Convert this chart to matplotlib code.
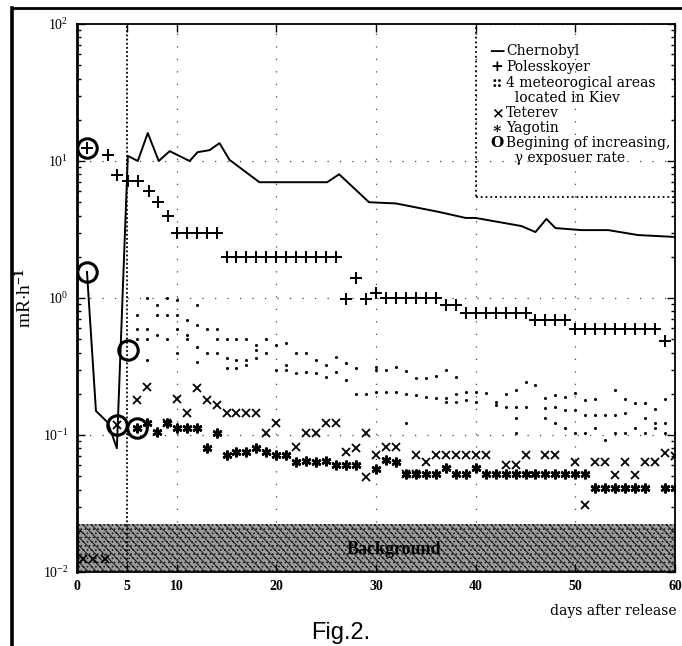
import matplotlib
matplotlib.use("Agg")
import matplotlib.pyplot as plt
from matplotlib.lines import Line2D
from matplotlib.patches import Rectangle

plt.rcParams['font.family'] = ['Liberation Serif', 'DejaVu Serif']
plt.rcParams['mathtext.fontset'] = 'custom'
plt.rcParams['mathtext.rm'] = 'Liberation Serif:bold'
plt.rcParams['mathtext.it'] = 'Liberation Serif:italic:bold'
plt.rcParams['mathtext.bf'] = 'Liberation Serif:bold'
plt.rcParams['mathtext.default'] = 'rm'
plt.rcParams['hatch.linewidth'] = 0.7

# ---------------- data ----------------
cherno_days = [1.0, 1.9, 3.1, 4.0, 5.1, 6.1, 7.1, 8.2, 9.3, 11.3, 12.1, 13.3, 14.3,
               15.3, 18.3, 25.1, 26.3, 29.3, 32.0, 36.3, 39.0, 40.0, 44.6, 46.0,
               47.1, 48.0, 50.6, 53.3, 56.3, 60.0]
cherno_vals = [1.55, 0.15, 0.123, 0.08, 10.9, 10.0, 16.0, 10.0, 11.8, 10.0, 11.6, 12.0,
               13.5, 10.2, 7.0, 7.0, 8.0, 5.0, 4.9, 4.25, 3.84, 3.84, 3.35, 3.03,
               3.78, 3.24, 3.13, 3.13, 2.88, 2.79]

pol_days = [1, 3.1, 4, 5.1, 6.1, 7.2, 8.1, 9.1,
            10, 11, 12, 13, 14,
            15, 16, 17, 18, 19, 20, 21, 22, 23, 24, 25, 26,
            27, 28, 29, 30,
            31, 32, 33, 34, 35, 36,
            37, 38,
            39, 40, 41, 42, 43, 44, 45,
            46, 47, 48, 49,
            50, 51, 52, 53, 54, 55, 56, 57, 58,
            59]
pol_vals = [12.4, 11.0, 7.9, 7.1, 7.1, 6.0, 5.0, 4.0,
            3.0, 3.0, 3.0, 3.0, 3.0,
            2.0, 2.0, 2.0, 2.0, 2.0, 2.0, 2.0, 2.0, 2.0, 2.0, 2.0, 2.0,
            0.98, 1.4, 0.98, 1.09,
            1.0, 1.0, 1.0, 1.0, 1.0, 1.0,
            0.89, 0.89,
            0.78, 0.78, 0.78, 0.78, 0.78, 0.78, 0.78,
            0.69, 0.69, 0.69, 0.69,
            0.59, 0.59, 0.59, 0.59, 0.59, 0.59, 0.59, 0.59, 0.59,
            0.485]

kiev_days = [6, 6, 6,
             7, 7, 7, 7,
             8, 8, 8,
             9, 9, 9,
             10, 10, 10, 10,
             11, 11, 11,
             12, 12, 12, 12,
             13, 13,
             14, 14, 14,
             15, 15, 15,
             16, 16, 16,
             17, 17, 17,
             18, 18, 18,
             19, 19,
             20, 20,
             21, 21, 21,
             22, 22,
             23, 23,
             24, 24,
             25, 25,
             26, 26,
             27, 27,
             28, 28,
             29,
             30, 30, 30,
             31, 31,
             32, 32,
             33, 33, 33,
             34, 34,
             35, 35,
             36, 36,
             37, 37, 37,
             38, 38, 38,
             39, 39,
             40, 40,
             41,
             42, 42,
             43, 43,
             44, 44, 44, 44,
             45, 45,
             46,
             47, 47, 47,
             48, 48, 48,
             49, 49, 49,
             50, 50, 50,
             51, 51, 51,
             52, 52, 52,
             53, 53,
             54, 54, 54,
             55, 55, 55,
             56, 56,
             57, 57, 57,
             58, 58, 58,
             59, 59, 59,
             60]
kiev_vals = [0.75, 0.59, 0.50,
             1.0, 0.59, 0.50, 0.35,
             0.89, 0.75, 0.54,
             1.0, 0.75, 0.50,
             0.97, 0.75, 0.59, 0.40,
             0.69, 0.54, 0.50,
             0.89, 0.635, 0.44, 0.34,
             0.59, 0.40,
             0.59, 0.50, 0.40,
             0.50, 0.365, 0.31,
             0.50, 0.35, 0.31,
             0.50, 0.35, 0.325,
             0.454, 0.417, 0.365,
             0.50, 0.397,
             0.454, 0.30,
             0.47, 0.325, 0.30,
             0.40, 0.284,
             0.40, 0.288,
             0.353, 0.284,
             0.325, 0.265,
             0.371, 0.288,
             0.336, 0.252,
             0.308, 0.20,
             0.20,
             0.314, 0.298, 0.206,
             0.298, 0.206,
             0.314, 0.206,
             0.293, 0.199, 0.122,
             0.261, 0.196,
             0.261, 0.189,
             0.27, 0.186,
             0.298, 0.186, 0.174,
             0.265, 0.199, 0.174,
             0.206, 0.18,
             0.206, 0.174,
             0.203,
             0.174, 0.166,
             0.199, 0.16,
             0.213, 0.16, 0.133, 0.103,
             0.244, 0.16,
             0.232,
             0.186, 0.157, 0.133,
             0.196, 0.16, 0.122,
             0.189, 0.152, 0.112,
             0.203, 0.152, 0.103,
             0.18, 0.14, 0.103,
             0.183, 0.14, 0.112,
             0.14, 0.092,
             0.213, 0.14, 0.103,
             0.183, 0.145, 0.103,
             0.171, 0.112,
             0.171, 0.133, 0.103,
             0.155, 0.122, 0.112,
             0.183, 0.122, 0.103,
             0.103]

teterev_days = [0.6, 1.6, 2.8, 4.0,
                6, 7, 9, 10, 11, 12, 13, 14, 15, 16, 17, 18, 19, 20,
                22, 23, 24, 25, 26, 27, 28, 29, 29, 30,
                31, 32, 33, 34, 34, 35, 36, 37, 38, 39, 40, 41,
                43, 44, 45, 47, 48,
                50, 51, 52, 53, 54, 55, 56, 57, 58, 59, 60]
teterev_vals = [0.0125, 0.0125, 0.0125, 0.118,
                0.18, 0.224, 0.123, 0.183, 0.144, 0.22, 0.18, 0.166, 0.145, 0.145,
                0.145, 0.145, 0.103, 0.122,
                0.082, 0.103, 0.103, 0.122, 0.122, 0.075, 0.08, 0.103, 0.049, 0.071,
                0.082, 0.082, 0.052, 0.071, 0.052, 0.063, 0.071, 0.071, 0.071, 0.071,
                0.071, 0.071,
                0.06, 0.06, 0.071, 0.071, 0.071,
                0.063, 0.031, 0.063, 0.063, 0.051, 0.063, 0.051, 0.063, 0.063, 0.074, 0.07]

yagotin_days = [6, 7, 8, 9, 10, 11, 12, 13, 14, 15, 16, 17, 18, 19, 20, 21, 22, 23,
                24, 25, 26, 27, 28, 30, 31, 32,
                33, 34, 35, 36, 37, 38, 39, 40, 41, 42, 43, 44, 45, 46, 47, 48, 49,
                50, 51,
                52, 53, 54, 55, 56, 57, 59, 60]
yagotin_vals = [0.112, 0.122, 0.105, 0.122, 0.112, 0.112, 0.112, 0.08, 0.103, 0.071,
                0.075, 0.075, 0.08, 0.075, 0.071, 0.071, 0.063, 0.065,
                0.063, 0.065, 0.06, 0.06, 0.06, 0.056, 0.066, 0.063,
                0.052, 0.052, 0.052, 0.052, 0.057, 0.052, 0.052, 0.057, 0.052, 0.052,
                0.052, 0.052, 0.052, 0.052, 0.052, 0.052, 0.052,
                0.052, 0.052,
                0.041, 0.041, 0.041, 0.041, 0.041, 0.041, 0.041, 0.041]

start_days = [1.0, 1.0, 4.0, 5.1, 6.0]
start_vals = [12.4, 1.55, 0.118, 0.42, 0.112]

background_range = [0.01, 0.0225]
background_label = 'Background'
marker_day = 5
grid_days = [10, 20, 30, 40, 50]
grid_levels = [0.1, 1, 10]
x_ticks = [0, 5, 10, 20, 30, 40, 50, 60]

legend_symbols = ['\u2014', '+', '::', '', '\u00d7', '\u2217', 'O', '']
legend_texts = ['Chernobyl', 'Polesskoyer', '4 meteorogical areas',
                '  located in Kiev', 'Teterev', 'Yagotin',
                'Begining of increasing,', '  \u03b3 exposuer rate']

# ---------------- figure ----------------
W, H = 682, 646
fig = plt.figure(figsize=(W / 100, H / 100), dpi=100)
ax = fig.add_axes([77 / W, 1 - 572 / H, 598 / W, 548 / H])
ax.set_yscale('log')
ax.set_xlim(0, 60)
ax.set_ylim(1e-2, 1e2)

# background band (stippled)
ax.axhspan(background_range[0], background_range[1], facecolor='#9c9c9c',
           edgecolor='#1a1a1a', hatch='\\\\\\\\....', linewidth=0, zorder=1)
ax.text(31.8, 0.0146, background_label, ha='center', va='center',
        fontsize=13, fontweight='bold', color='black', zorder=6)

# sparse grid and marker line
for gx in grid_days:
    ax.axvline(gx, color='#444444', lw=0.9, ls=(0, (1, 9)), zorder=2)
for gy in grid_levels:
    ax.axhline(gy, color='#444444', lw=0.9, ls=(0, (1, 9)), zorder=2)
ax.axvline(marker_day, color='black', lw=1.3, ls=(0, (1, 1.3)), zorder=3)

# data series
ax.plot(cherno_days, cherno_vals, color='black', lw=1.4, zorder=5)
ax.plot(pol_days, pol_vals, ls='none', marker='+', ms=8, mew=1.4, color='black', zorder=5)
ax.plot(kiev_days, kiev_vals, ls='none', marker='o', ms=2.2, mew=0, color='black', zorder=5)
ax.plot(teterev_days, teterev_vals, ls='none', marker='x', ms=6, mew=1.3, color='black', zorder=5)
ax.plot(yagotin_days, yagotin_vals, ls='none', marker=(6, 2, 0), ms=7, mew=1.8, color='black', zorder=5)
ax.plot(start_days, start_vals, ls='none', marker='o', ms=14, mew=2.2, mfc='none',
        mec='black', zorder=6)

# axes styling
ax.set_xticks(x_ticks)
ax.set_xticklabels([str(t) for t in x_ticks])
ax.tick_params(which='both', direction='in', top=True, right=True, width=1.0)
ax.tick_params(which='major', length=6, labelsize=10, pad=6)
ax.tick_params(which='minor', length=3)
for lab in ax.get_xticklabels():
    lab.set_fontweight('bold')
for sp in ax.spines.values():
    sp.set_linewidth(1.3)
ax.spines['left'].set_linewidth(2.0)

ax.set_ylabel(r'mR$\cdot$h$^{-1}$', fontsize=14)
ax.yaxis.set_label_coords(-(77 - 35) / 598, 0.5)

# legend box (dotted) with entries
ax.add_patch(Rectangle(((476 - 77) / 598, (572 - 197) / 548), 1 - (476 - 77) / 598,
                       1 - (572 - 197) / 548, transform=ax.transAxes, fill=False,
                       ls=':', lw=1.3, color='black', zorder=7))
line_px = [51, 67, 83, 98, 113, 128, 143, 158]
for sym, txt, py in zip(legend_symbols, legend_texts, line_px):
    yf = (572 - py) / 548
    if sym:
        ax.text((497 - 77) / 598, yf, sym, transform=ax.transAxes, ha='center',
                va='center', fontsize=11, fontweight='bold', family='DejaVu Serif', zorder=8)
    ax.text((506 - 77) / 598, yf, txt, transform=ax.transAxes, ha='left', va='center',
            fontsize=10, family='DejaVu Serif', zorder=8)

fig.text(677 / W, 1 - 611 / H, 'days after release', ha='right', va='center',
         fontsize=10, family='DejaVu Serif')
fig.text(341 / W, 1 - 633 / H, 'Fig.2.', ha='center', va='center', fontsize=17,
         family='Liberation Sans')

# outer frame of the scanned page
fig.add_artist(Line2D([12 / W, 12 / W], [0, 1 - 8 / H], transform=fig.transFigure,
                      color='black', lw=2.6))
fig.add_artist(Line2D([12 / W, 1], [1 - 8 / H, 1 - 8 / H], transform=fig.transFigure,
                      color='black', lw=2.0))

fig.savefig('out.png', dpi=100)
